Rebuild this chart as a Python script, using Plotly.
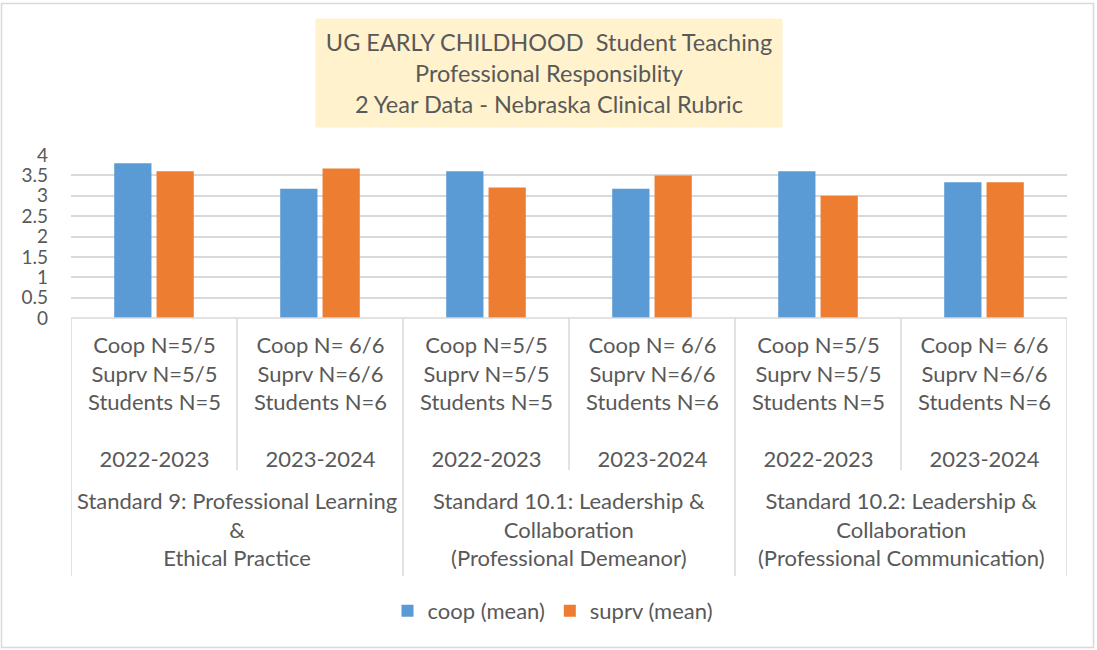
import plotly.graph_objs as go

# data
years = ['2022-2023', '2023-2024', '2022-2023', '2023-2024', '2022-2023', '2023-2024']
counts = ['Coop N=5/5<br>Suprv N=5/5<br>Students N=5',
          'Coop N= 6/6<br>Suprv N=6/6<br>Students N=6',
          'Coop N=5/5<br>Suprv N=5/5<br>Students N=5',
          'Coop N= 6/6<br>Suprv N=6/6<br>Students N=6',
          'Coop N=5/5<br>Suprv N=5/5<br>Students N=5',
          'Coop N= 6/6<br>Suprv N=6/6<br>Students N=6']
standards = ['Standard 9: Professional Learning<br>&<br>Ethical Practice',
             'Standard 10.1: Leadership &<br>Collaboration<br>(Professional Demeanor)',
             'Standard 10.2: Leadership &<br>Collaboration<br>(Professional Communication)']
coop_mean = [3.8, 3.17, 3.6, 3.17, 3.6, 3.33]
suprv_mean = [3.6, 3.67, 3.2, 3.5, 3.0, 3.33]

W, H = 1097, 650
L, R, T, B = 71, 30, 155, 332
pw, ph = W - L - R, H - T - B
grey = '#595959'
line = '#D9D9D9'
font = 'Lato'

def px_y(py):
    return (H - B - py) / ph

def px_x(px):
    return (px - L) / pw

idx = list(range(len(years)))

data = [
    go.Bar(x=idx, y=coop_mean, name='coop (mean)', marker=dict(color='#5B9BD5', line=dict(width=0))),
    go.Bar(x=idx, y=suprv_mean, name='suprv (mean)', marker=dict(color='#ED7D31', line=dict(width=0))),
]

annotations = [dict(
    text='UG EARLY CHILDHOOD  Student Teaching<br>Professional Responsiblity<br>2 Year Data - Nebraska Clinical Rubric',
    xref='paper', yref='paper', x=px_x(549), y=px_y(73), xanchor='center', yanchor='middle',
    width=464, height=106, bgcolor='#FFF2CC', showarrow=False,
    font=dict(family=font, size=23.5, color=grey))]

for i in idx:
    annotations.append(dict(text=counts[i] + '<br><br>' + years[i], x=i, xref='x',
                            y=px_y(401), yref='paper', yanchor='middle', showarrow=False,
                            font=dict(family=font, size=22, color=grey)))
for g, s in enumerate(standards):
    annotations.append(dict(text=s, x=2 * g + 0.5, xref='x', y=px_y(529), yref='paper',
                            yanchor='middle', showarrow=False,
                            font=dict(family=font, size=22, color=grey)))

shapes = [dict(type='line', xref='x', yref='paper', x0=-0.5, x1=5.5, y0=0, y1=0,
               line=dict(color=line, width=1.5))]
for i in range(7):
    bottom = 576 if i % 2 == 0 else 470
    shapes.append(dict(type='line', xref='x', yref='paper', x0=i - 0.5, x1=i - 0.5,
                       y0=0, y1=px_y(bottom), line=dict(color=line, width=1.5)))
shapes.append(dict(type='rect', xref='paper', yref='paper', x0=px_x(1.5), x1=px_x(1093.5),
                   y0=px_y(3.5), y1=px_y(647.5), line=dict(color=line, width=1.5)))

layout = go.Layout(
    width=W, height=H, margin=dict(l=L, r=R, t=T, b=B),
    paper_bgcolor='white', plot_bgcolor='white',
    barmode='group', bargap=0.49, bargroupgap=0.12,
    font=dict(family=font, color=grey),
    xaxis=dict(range=[-0.5, 5.5], showticklabels=False, showgrid=False, zeroline=False, fixedrange=True),
    yaxis=dict(range=[0, 4], dtick=0.5, gridcolor=line, gridwidth=1.5, zeroline=False,
               tickfont=dict(family=font, size=19, color=grey), ticklabelstandoff=22),
    legend=dict(orientation='h', x=px_x(553), xanchor='center', y=px_y(611), yanchor='middle',
                font=dict(family=font, size=22, color=grey)),
    annotations=annotations, shapes=shapes,
)

fig = go.Figure(data=data, layout=layout)
# drop the default 8px page margin so the chart sits at the window's corner
fig.write_html('out.html', config={'displayModeBar': False},
               post_script="document.body.style.margin='0';")
